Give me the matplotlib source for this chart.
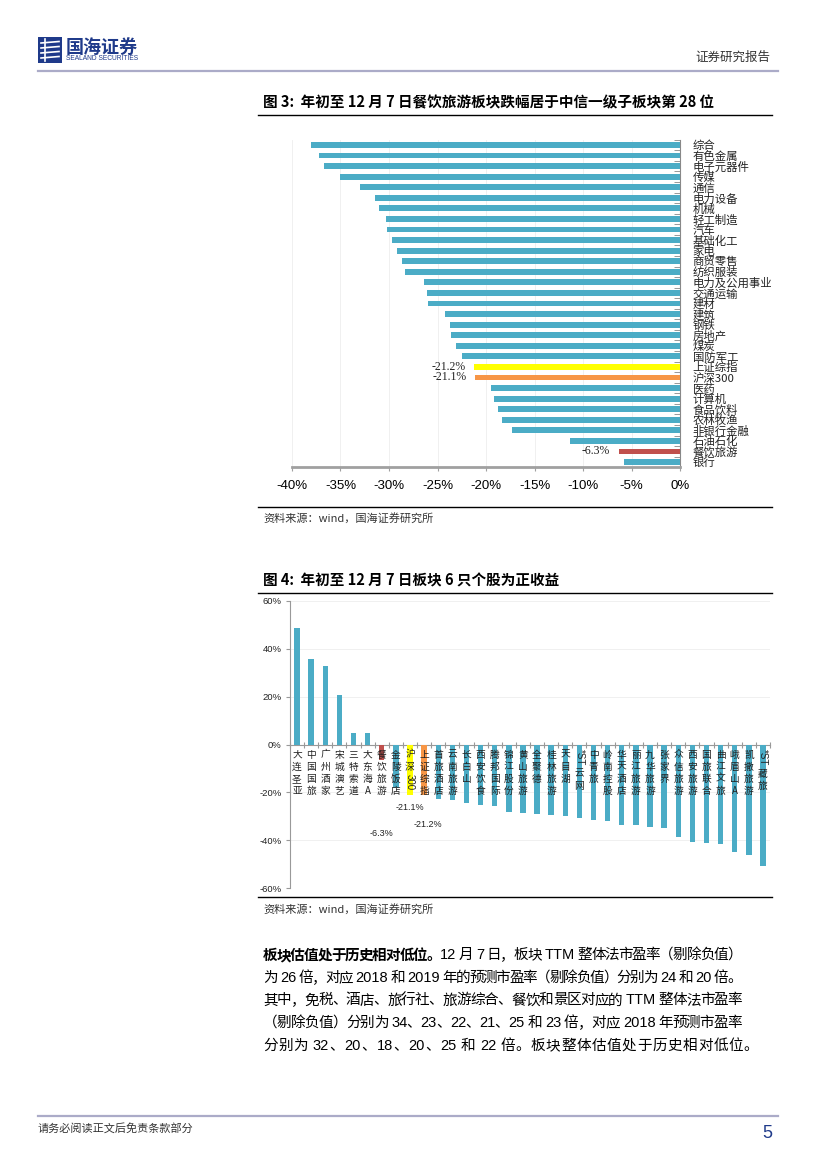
import numpy as np
import matplotlib
matplotlib.use("Agg")
import matplotlib.pyplot as plt
from matplotlib import transforms
from matplotlib.patches import Rectangle

plt.rcParams['font.family'] = ['Noto Sans CJK SC', 'DejaVu Sans']

W, H = 827, 1169

## Figure 3 data: sector returns year to date
sectors = ["综合", "有色金属", "电子元器件", "传媒", "通信", "电力设备", "机械", "轻工制造",
           "汽车", "基础化工", "家电", "商贸零售", "纺织服装", "电力及公用事业", "交通运输",
           "建材", "建筑", "钢铁", "房地产", "煤炭", "国防军工", "上证综指", "沪深300",
           "医药", "计算机", "食品饮料", "农林牧渔", "非银行金融", "石油石化", "餐饮旅游", "银行"]
sector_ret = [-38.0, -37.2, -36.7, -35.1, -33.0, -31.4, -31.0, -30.3, -30.2, -29.7, -29.2,
              -28.7, -28.3, -26.4, -26.1, -26.0, -24.2, -23.7, -23.6, -23.1, -22.5, -21.2,
              -21.1, -19.5, -19.2, -18.8, -18.4, -17.3, -11.3, -6.3, -5.8]
sector_hl = {"上证综指": "#FFFF00", "沪深300": "#F79646", "餐饮旅游": "#C0504D"}

## Figure 4 data: stock returns year to date
stocks = ["大连圣亚", "中国国旅", "广州酒家", "宋城演艺", "三特索道", "大东海A", "餐饮旅游",
          "金陵饭店", "沪深300", "上证综指", "首旅酒店", "云南旅游", "长白山", "西安饮食",
          "腾邦国际", "锦江股份", "黄山旅游", "全聚德", "桂林旅游", "天目湖", "*ST云网",
          "中青旅", "岭南控股", "华天酒店", "丽江旅游", "九华旅游", "张家界", "众信旅游",
          "西安旅游", "国旅联合", "曲江文旅", "峨眉山A", "凯撒旅游", "*ST藏旅"]
stock_ret = [48.8, 35.9, 32.8, 20.5, 4.6, 4.6, -6.3, -18.0, -21.1, -21.2, -22.8, -23.1,
             -24.3, -25.3, -25.9, -28.4, -28.7, -29.1, -29.5, -30.1, -30.8, -31.5, -31.9,
             -33.7, -33.8, -34.3, -35.1, -38.5, -40.8, -41.3, -41.7, -44.8, -46.4, -50.6]
stock_hl = {"餐饮旅游": "#C0504D", "沪深300": "#FFFF00", "上证综指": "#F79646"}

body_lines = [
    [("板块估值处于历史相对低位。", "bold"), ("12 月 7 日，板块 TTM 整体法市盈率（剔除负值）", "normal")],
    [("为 26 倍，对应 2018 和 2019 年的预测市盈率（剔除负值）分别为 24 和 20 倍。", "normal")],
    [("其中，免税、酒店、旅行社、旅游综合、餐饮和景区对应的 TTM 整体法市盈率", "normal")],
    [("（剔除负值）分别为 34、23、22、21、25 和 23 倍，对应 2018 年预测市盈率", "normal")],
    [("分别为 32、20、18、20、25 和 22 倍。板块整体估值处于历史相对低位。", "normal")],
]

BLUE = "#4BACC6"
NAVY = "#1F3A8A"
PAGE_LINE = "#ABABC8"

fig = plt.figure(figsize=(W / 100, H / 100), dpi=100)


def fx(x):
    return x / W


def fy(y):
    return 1 - y / H


def px_axes(x0, y0, x1, y1):
    return fig.add_axes([fx(x0), fy(y1), (x1 - x0) / W, (y1 - y0) / H])


def hline(y, x0, x1, color="black", lw=1.0):
    fig.add_artist(plt.Line2D([fx(x0), fx(x1)], [fy(y), fy(y)], color=color, lw=lw))


def ftext(x, y, s, **kw):
    return fig.text(fx(x), fy(y), s, **kw)


## Header
logo = fig.add_axes([fx(38), fy(63), 24 / W, 26 / H])
logo.set_xlim(0, 24)
logo.set_ylim(0, 26)
logo.axis("off")
logo.add_patch(Rectangle((0, 0), 24, 26, color=NAVY))
for yy in [5, 10, 15, 20]:
    logo.plot([3, 21], [yy, yy + 1.5], color="white", lw=1.2)
logo.plot([7, 7], [2, 24], color="white", lw=1.2)
ftext(66, 47, "国海证券", fontsize=13, fontweight="bold", color=NAVY, va="center")
ftext(66, 59, "SEALAND SECURITIES", fontsize=4.8, color=NAVY, va="center",
      family="Liberation Sans")
ftext(770, 57, "证券研究报告", fontsize=9, color="#333333", ha="right", va="center")
hline(71, 38, 778, PAGE_LINE, 1.6)

## Figure 3
ftext(263, 102, "图 3:  年初至 12 月 7 日餐饮旅游板块跌幅居于中信一级子板块第 28 位",
      fontsize=10.5, fontweight="bold", va="center")
hline(115, 258, 772, "black", 1.0)

ax1 = px_axes(292, 139.7, 680, 467.3)
idx = np.arange(len(sectors))
cols1 = [sector_hl.get(s, BLUE) for s in sectors]
ax1.barh(idx, sector_ret, height=0.55, color=cols1, zorder=3)
ax1.set_xlim(-40, 0)
ax1.set_ylim(len(sectors) - 0.5, -0.5)
for sp in ["top", "left"]:
    ax1.spines[sp].set_visible(False)
ax1.spines["right"].set_color("#888888")
ax1.spines["right"].set_linewidth(0.8)
ax1.spines["bottom"].set_color("#A0A0A0")
ax1.spines["bottom"].set_linewidth(2)
ax1.yaxis.tick_right()
ax1.set_yticks(idx)
ax1.set_yticklabels(sectors, fontsize=8.2, color="#222222")
ax1.set_yticks(np.arange(-0.5, len(sectors), 1), minor=True)
ax1.tick_params(axis="y", which="major", length=0, pad=9)
ax1.tick_params(axis="y", which="minor", direction="in", length=4, color="#888888", right=True)
xt = np.arange(-40, 1, 5)
ax1.set_xticks(xt)
ax1.set_xticklabels([f"{v}%" for v in xt], family="Liberation Sans", fontsize=9.5)
ax1.tick_params(axis="x", length=3, color="#A0A0A0", pad=6)
ax1.xaxis.grid(True, color="#EEEEEE", lw=0.6, zorder=0)
for i, (s, v) in enumerate(zip(sectors, sector_ret)):
    if s in sector_hl:
        ax1.text(v - 0.9, i, f"{v:.1f}%", ha="right", va="center", fontsize=8.5,
                 family="Liberation Serif", color="#222222")

hline(507, 258, 772, "black", 1.0)
ftext(263, 518, "资料来源：wind，国海证券研究所", fontsize=8, color="#333333", va="center")

## Figure 4
ftext(263, 580, "图 4:  年初至 12 月 7 日板块 6 只个股为正收益",
      fontsize=10.5, fontweight="bold", va="center")
hline(593, 258, 772, "black", 1.0)

ax2 = px_axes(290, 601, 770, 888)
idx2 = np.arange(len(stocks))
cols2 = [stock_hl.get(s, BLUE) for s in stocks]
ax2.bar(idx2, stock_ret, width=0.38, color=cols2, zorder=3)
ax2.set_xlim(-0.5, len(stocks) - 0.5)
ax2.set_ylim(-60, 60)
for sp in ["top", "right"]:
    ax2.spines[sp].set_visible(False)
ax2.spines["left"].set_color("#999999")
ax2.spines["left"].set_linewidth(0.8)
ax2.spines["bottom"].set_position(("data", 0))
ax2.spines["bottom"].set_color("#999999")
ax2.spines["bottom"].set_linewidth(0.8)
yt = np.arange(-60, 61, 20)
ax2.set_yticks(yt)
ax2.set_yticklabels([f"{v}%" for v in yt], family="Liberation Sans", fontsize=6.8,
                    color="#222222")
ax2.tick_params(axis="y", length=3, color="#999999", pad=3)
ax2.set_xticks(np.arange(-0.5, len(stocks), 1))
ax2.set_xticklabels([])
ax2.tick_params(axis="x", direction="inout", length=4, color="#999999")
ax2.yaxis.grid(True, color="#EEEEEE", lw=0.6, zorder=0)


def vertical_label(ax, x, s, fs=7, step=12.2, top=4):
    # stack CJK characters, turn latin runs sideways
    runs = []
    for ch in s:
        kind = ch.isascii()
        if runs and runs[-1][1] and kind:
            runs[-1][0] += ch
        else:
            runs.append([ch, kind])
    off = top
    em = fs * 100 / 72
    for txt, latin in runs:
        if latin and len(txt) > 1:
            h = 0.6 * em * len(txt)
            tr = transforms.offset_copy(ax.transData, fig=fig, x=0, y=-(off + h / 2), units="dots")
            ax.text(x, 0, txt, transform=tr, rotation=-90, ha="center", va="center",
                    fontsize=fs, family="Liberation Sans", color="#222222", zorder=5)
            off += h + 1.5
        else:
            tr = transforms.offset_copy(ax.transData, fig=fig, x=0, y=-(off + step / 2), units="dots")
            ax.text(x, 0, txt, transform=tr, ha="center", va="center", fontsize=fs,
                    color="#222222", zorder=5)
            off += step


for i, s in enumerate(stocks):
    vertical_label(ax2, i, s)

# value labels for highlighted bars
lab_pos = {"餐饮旅游": (0.0, -37.3), "沪深300": (0.0, -26.4), "上证综指": (0.25, -33.5)}
for i, (s, v) in enumerate(zip(stocks, stock_ret)):
    if s in lab_pos:
        dx, yy = lab_pos[s]
        ax2.text(i + dx, yy, f"{v:.1f}%", ha="center", va="center", fontsize=6.5,
                 family="Liberation Sans", color="#222222")

hline(897, 258, 772, "black", 1.0)
ftext(263, 909, "资料来源：wind，国海证券研究所", fontsize=8, color="#333333", va="center")

## Body paragraph, justified by hand
renderer = fig.canvas.get_renderer()
SPACE = 3.5  # px added where the source has a space


def draw_line(y, segments, x0=263, x1=742, justify=True):
    tokens = []  # (text, weight, space_before)
    for text, weight in segments:
        buf = ""
        sp = False
        for ch in text:
            if ch == " ":
                if buf:
                    tokens.append((buf, weight, sp))
                    buf = ""
                    sp = False
                sp = True
                continue
            if ch.isascii():
                buf += ch
                continue
            if buf:
                tokens.append((buf, weight, sp))
                buf = ""
                sp = False
            tokens.append((ch, weight, sp))
            sp = False
        if buf:
            tokens.append((buf, weight, sp))
    arts = []
    for tok, weight, sp in tokens:
        kw = {"family": ["Liberation Sans", "Noto Sans CJK SC"]} if tok.isascii() else {}
        t = ftext(0, y, tok, fontsize=10.5, fontweight=weight, va="center", **kw)
        arts.append(t)
    widths = [a.get_window_extent(renderer).width for a in arts]
    natural = sum(widths) + SPACE * sum(1 for t in tokens[1:] if t[2])
    gaps = len(arts) - 1
    extra = (x1 - x0 - natural) / gaps if (justify and gaps > 0) else 0.6
    x = x0
    for k, (a, w) in enumerate(zip(arts, widths)):
        if k > 0 and tokens[k][2]:
            x += SPACE
        a.set_x(fx(x))
        x += w + extra


ys = [955, 977.7, 1000.4, 1023, 1045.8]
for k, (yy, segs) in enumerate(zip(ys, body_lines)):
    draw_line(yy, segs, justify=(k < len(body_lines) - 1))

## Footer
hline(1116, 38, 778, PAGE_LINE, 1.6)
ftext(38, 1128, "请务必阅读正文后免责条款部分", fontsize=8, color="#333333", va="center")
ftext(772, 1133, "5", fontsize=13, color=NAVY, ha="right", va="center", family="Liberation Sans")

fig.savefig("out.png", dpi=100)
